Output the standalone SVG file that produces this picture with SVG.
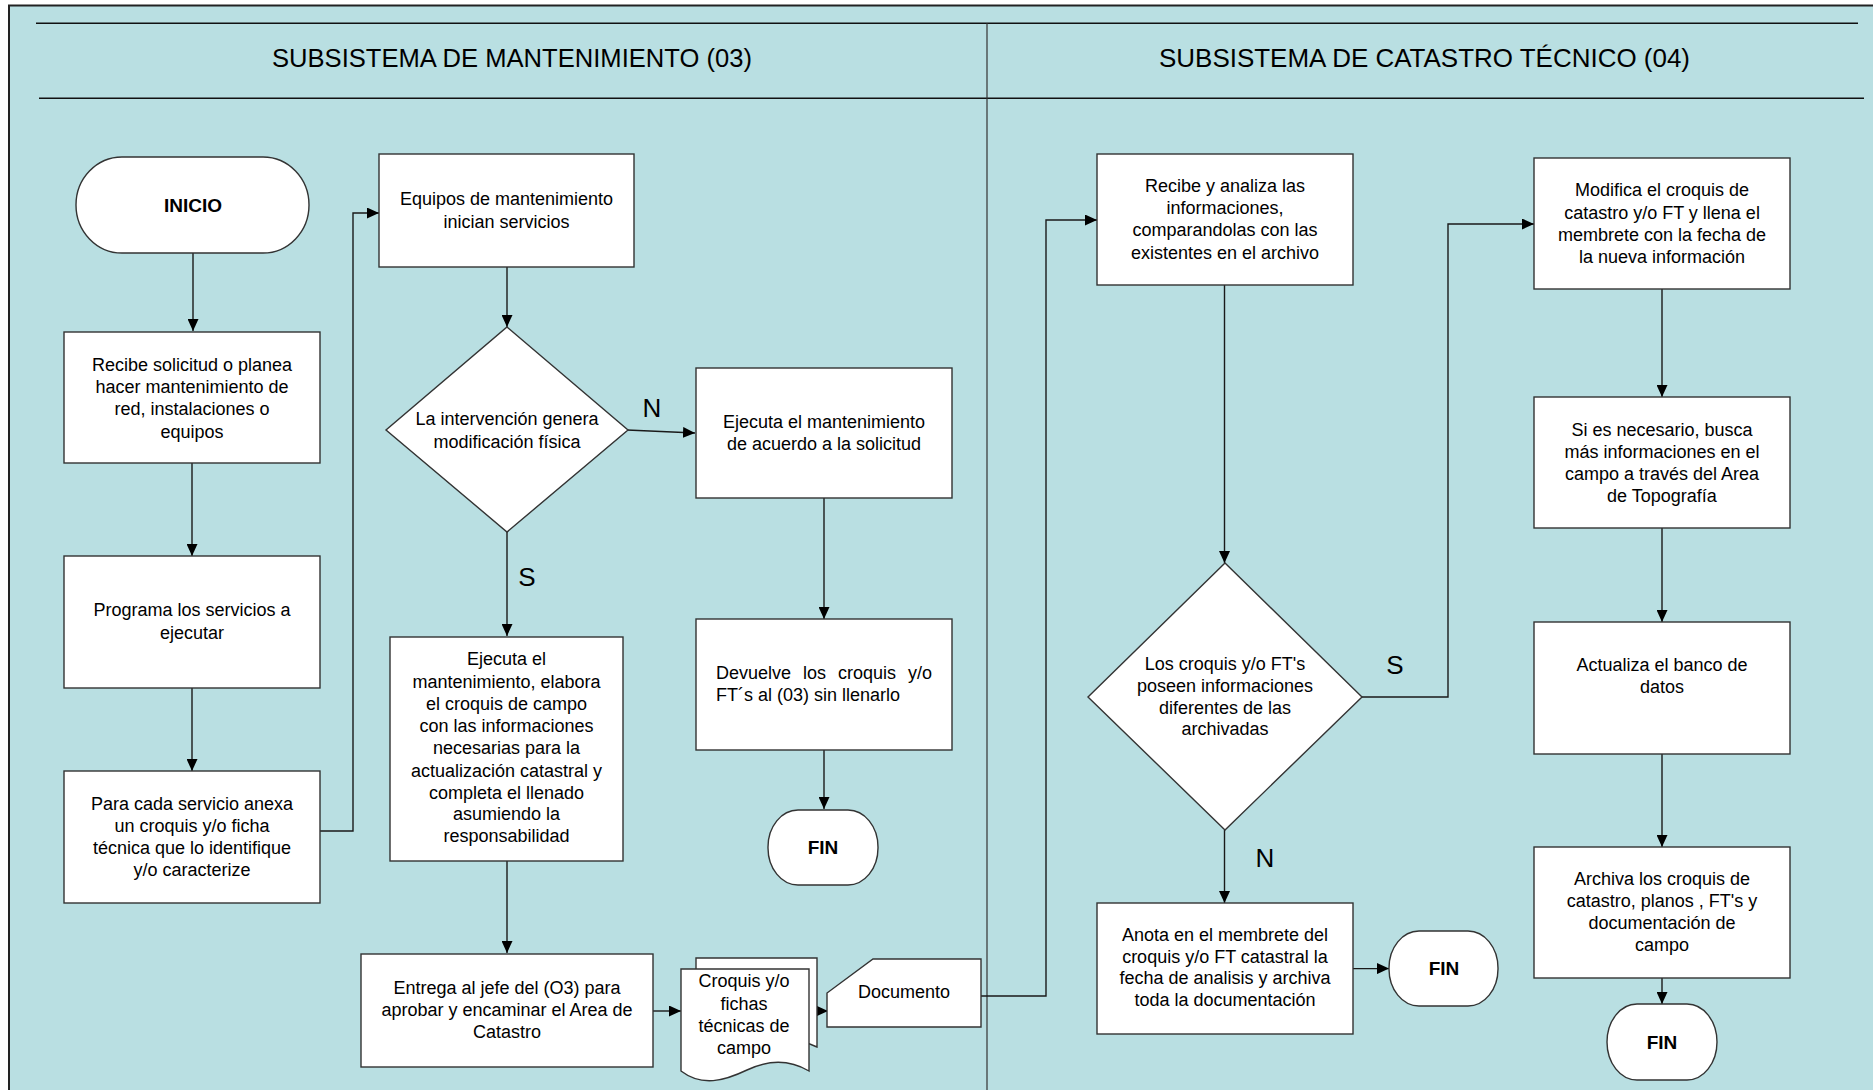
<svg xmlns="http://www.w3.org/2000/svg" width="1873" height="1090" viewBox="0 0 1873 1090">
<defs>
<marker id="arr" viewBox="0 0 12 11" refX="12" refY="5.5" markerWidth="12" markerHeight="11" markerUnits="userSpaceOnUse" orient="auto">
<path d="M0,0 L12,5.5 L0,11 z" fill="#000"/>
</marker>
<style>
.box{fill:#fff;stroke:#333;stroke-width:1.4}
.t{font-family:"Liberation Sans",Arial,sans-serif;font-size:18px;fill:#000;text-anchor:middle}
.s{text-anchor:start}
.e{text-anchor:end}
.b{font-family:"Liberation Sans",Arial,sans-serif;font-size:19px;font-weight:bold;fill:#000;text-anchor:middle}
.lbl{font-family:"Liberation Sans",Arial,sans-serif;font-size:26px;fill:#000;text-anchor:middle}
.hd{font-family:"Liberation Sans",Arial,sans-serif;font-size:25.5px;fill:#000;text-anchor:middle}
.c{fill:none;stroke:#1a1a1a;stroke-width:1.4;marker-end:url(#arr)}
</style>
</defs>
<rect x="0" y="0" width="1873" height="1090" fill="#fff"/>
<rect x="9" y="5.5" width="1880" height="1100" fill="#B9DFE2" stroke="#222" stroke-width="2"/>
<g id="header">
<line x1="36" y1="23.3" x2="1858" y2="23.3" stroke="#111" stroke-width="1.5"/>
<line x1="39" y1="98.3" x2="1864" y2="98.3" stroke="#111" stroke-width="1.5"/>
<line x1="987" y1="23" x2="987" y2="1090" stroke="#333" stroke-width="1.2"/>
<text class="hd" x="512" y="67" textLength="480" lengthAdjust="spacingAndGlyphs">SUBSISTEMA DE MANTENIMIENTO (03)</text>
<text class="hd" x="1424.5" y="67" textLength="531" lengthAdjust="spacingAndGlyphs">SUBSISTEMA DE CATASTRO TÉCNICO (04)</text>
</g>
<g id="connectors">
<path class="c" d="M193 253 V331"/>
<path class="c" d="M192 463 V556"/>
<path class="c" d="M192 688 V771"/>
<path class="c" d="M318 831 H353 V213 H379"/>
<path class="c" d="M507 267 V327"/>
<path class="c" d="M627 430 L695 433"/>
<path class="c" d="M507 532 V636"/>
<path class="c" d="M507 861 V953"/>
<path class="c" d="M653 1011 H681"/>
<path class="c" d="M817 1011 H828"/>
<path class="c" d="M981 996 H1046 V220 H1097"/>
<path class="c" d="M824 498 V619"/>
<path class="c" d="M824 750 V809"/>
<path class="c" d="M1224.5 285 V563"/>
<path class="c" d="M1362 697 H1448 V224 H1534"/>
<path class="c" d="M1224.5 830 V903"/>
<path class="c" d="M1353 968.6 H1389"/>
<path class="c" d="M1662 289 V397"/>
<path class="c" d="M1662 528 V622"/>
<path class="c" d="M1662 754 V847"/>
<path class="c" d="M1662 978 V1004"/>
</g>
<g id="labels">
<text class="lbl" x="652" y="416.5">N</text>
<text class="lbl" x="527" y="585.5">S</text>
<text class="lbl" x="1395" y="674">S</text>
<text class="lbl" x="1265" y="867">N</text>
</g>
<g id="inicio">
<rect x="76" y="157" width="233" height="96" rx="46" ry="48" class="box"/>
<text class="b" x="193" y="212">INICIO</text>
</g>
<g id="recibe-solicitud">
<rect x="64" y="332" width="256" height="131" class="box"/>
<text class="t" x="192" y="371">Recibe solicitud o planea</text>
<text class="t" x="192" y="393">hacer mantenimiento de</text>
<text class="t" x="192" y="415">red, instalaciones o</text>
<text class="t" x="192" y="437.5">equipos</text>
</g>
<g id="programa">
<rect x="64" y="556" width="256" height="132" class="box"/>
<text class="t" x="192" y="616">Programa los servicios a</text>
<text class="t" x="192" y="639">ejecutar</text>
</g>
<g id="para-cada">
<rect x="64" y="771" width="256" height="132" class="box"/>
<text class="t" x="192" y="810">Para cada servicio anexa</text>
<text class="t" x="192" y="832">un croquis y/o ficha</text>
<text class="t" x="192" y="854">técnica que lo identifique</text>
<text class="t" x="192" y="876">y/o caracterize</text>
</g>
<g id="equipos">
<rect x="379" y="154" width="255" height="113" class="box"/>
<text class="t" x="506.5" y="205">Equipos de mantenimiento</text>
<text class="t" x="506.5" y="227.5">inician servicios</text>
</g>
<g id="decision-1">
<polygon points="507,327 628,430 507,532 386,430" class="box"/>
<text class="t" x="507" y="424.5">La intervención genera</text>
<text class="t" x="507" y="447.5">modificación física</text>
</g>
<g id="ejecuta-mantenimiento">
<rect x="696" y="368" width="256" height="130" class="box"/>
<text class="t" x="824" y="427.5">Ejecuta el mantenimiento</text>
<text class="t" x="824" y="449.5">de acuerdo a la solicitud</text>
</g>
<g id="ejecuta-elabora">
<rect x="390" y="637" width="233" height="224" class="box"/>
<text class="t" x="506.5" y="665.3">Ejecuta el</text>
<text class="t" x="506.5" y="688">mantenimiento, elabora</text>
<text class="t" x="506.5" y="710">el croquis de campo</text>
<text class="t" x="506.5" y="732">con las informaciones</text>
<text class="t" x="506.5" y="754">necesarias para la</text>
<text class="t" x="506.5" y="776.8">actualización catastral y</text>
<text class="t" x="506.5" y="798.5">completa el llenado</text>
<text class="t" x="506.5" y="820.3">asumiendo la</text>
<text class="t" x="506.5" y="842.4">responsabilidad</text>
</g>
<g id="entrega">
<rect x="361" y="954" width="292" height="113" class="box"/>
<text class="t" x="507" y="994">Entrega al jefe del (O3) para</text>
<text class="t" x="507" y="1016">aprobar y encaminar el Area de</text>
<text class="t" x="507" y="1038">Catastro</text>
</g>
<g id="croquis-fichas">
<path d="M696,958 H817 V1047 C806,1042 797,1040 790,1041 L696,1041 Z" class="box"/>
<path d="M681,969 H809 V1071 C792,1061 772,1058 747,1070 C724,1081 702,1087 681,1071 Z" class="box"/>
<text class="t" x="744" y="987">Croquis y/o</text>
<text class="t" x="744" y="1009.5">fichas</text>
<text class="t" x="744" y="1032">técnicas de</text>
<text class="t" x="744" y="1053.5">campo</text>
</g>
<g id="documento">
<path d="M873,959 H981 V1027 H827 V993 Z" class="box"/>
<text class="t" x="904" y="998">Documento</text>
</g>
<g id="devuelve">
<rect x="696" y="619" width="256" height="131" class="box"/>
<text class="t s" x="716" y="678.5">Devuelve</text>
<text class="t s" x="803" y="678.5">los</text>
<text class="t s" x="838" y="678.5">croquis</text>
<text class="t e" x="932" y="678.5">y/o</text>
<text class="t s" x="716" y="700.5">FT´s al (03) sin llenarlo</text>
</g>
<g id="fin-1">
<rect x="768" y="810" width="110" height="75" rx="30" ry="37" class="box"/>
<text class="b" x="823" y="854">FIN</text>
</g>
<g id="recibe-analiza">
<rect x="1097" y="154" width="256" height="131" class="box"/>
<text class="t" x="1225" y="191.7">Recibe y analiza las</text>
<text class="t" x="1225" y="214.3">informaciones,</text>
<text class="t" x="1225" y="236">comparandolas con las</text>
<text class="t" x="1225" y="258.7">existentes en el archivo</text>
</g>
<g id="decision-2">
<polygon points="1225,563 1362,697 1225,830 1088,697" class="box"/>
<text class="t" x="1225" y="669.5">Los croquis y/o FT's</text>
<text class="t" x="1225" y="691.6">poseen informaciones</text>
<text class="t" x="1225" y="713.7">diferentes de las</text>
<text class="t" x="1225" y="735.4">archivadas</text>
</g>
<g id="anota">
<rect x="1097" y="903" width="256" height="131" class="box"/>
<text class="t" x="1225" y="940.6">Anota en el membrete del</text>
<text class="t" x="1225" y="963.4">croquis y/o FT catastral la</text>
<text class="t" x="1225" y="984.4">fecha de analisis y archiva</text>
<text class="t" x="1225" y="1006.2">toda la documentación</text>
</g>
<g id="fin-2">
<rect x="1389" y="931" width="109" height="75" rx="30" ry="37" class="box"/>
<text class="b" x="1444" y="975">FIN</text>
</g>
<g id="modifica">
<rect x="1534" y="158" width="256" height="131" class="box"/>
<text class="t" x="1662" y="196">Modifica el croquis de</text>
<text class="t" x="1662" y="218.7">catastro y/o FT y llena el</text>
<text class="t" x="1662" y="241">membrete con la fecha de</text>
<text class="t" x="1662" y="262.7">la nueva información</text>
</g>
<g id="si-es-necesario">
<rect x="1534" y="397" width="256" height="131" class="box"/>
<text class="t" x="1662" y="436">Si es necesario, busca</text>
<text class="t" x="1662" y="458.3">más informaciones en el</text>
<text class="t" x="1662" y="480">campo a través del Area</text>
<text class="t" x="1662" y="502">de Topografía</text>
</g>
<g id="actualiza">
<rect x="1534" y="622" width="256" height="132" class="box"/>
<text class="t" x="1662" y="671">Actualiza el banco de</text>
<text class="t" x="1662" y="693.3">datos</text>
</g>
<g id="archiva">
<rect x="1534" y="847" width="256" height="131" class="box"/>
<text class="t" x="1662" y="885">Archiva los croquis de</text>
<text class="t" x="1662" y="906.7">catastro, planos , FT's y</text>
<text class="t" x="1662" y="928.7">documentación de</text>
<text class="t" x="1662" y="951">campo</text>
</g>
<g id="fin-3">
<rect x="1607" y="1004" width="110" height="76" rx="30" ry="38" class="box"/>
<text class="b" x="1662" y="1049">FIN</text>
</g>
</svg>
